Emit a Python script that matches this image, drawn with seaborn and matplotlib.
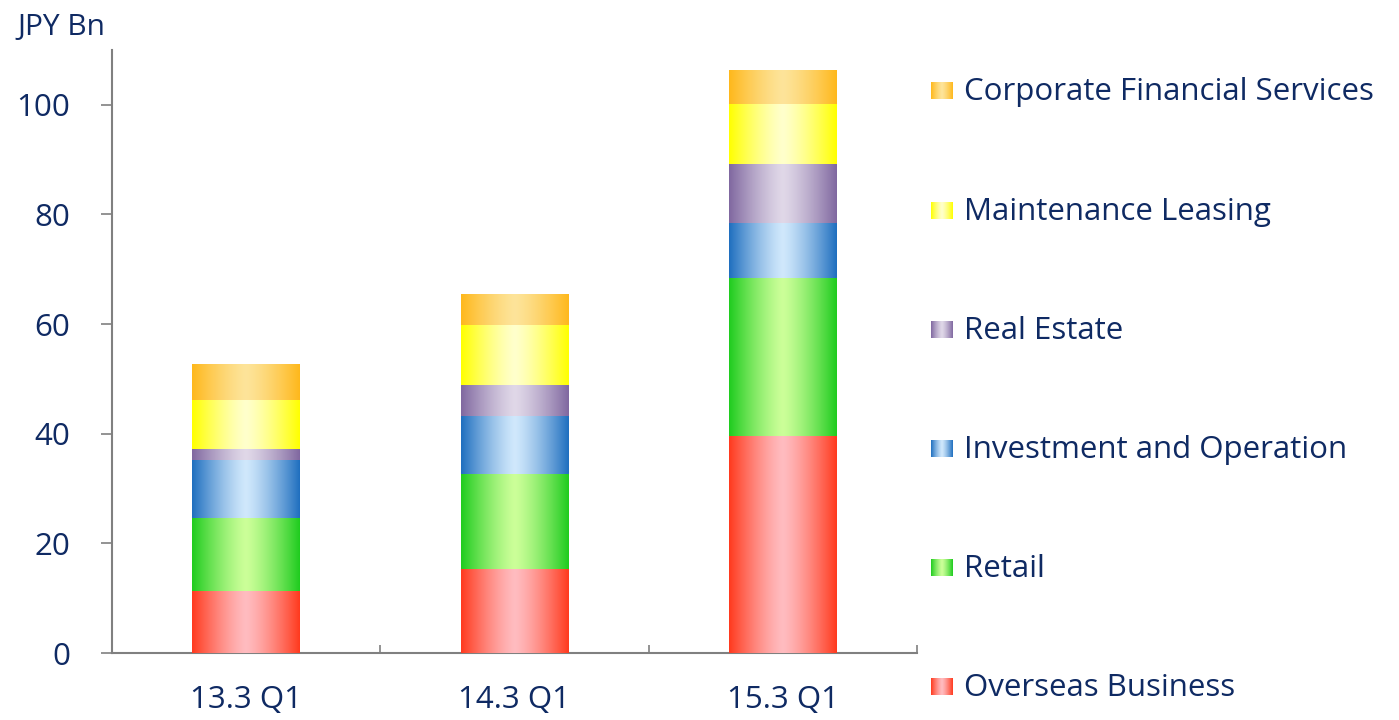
import numpy as np
import pandas as pd
import matplotlib
matplotlib.use("Agg")
import matplotlib.pyplot as plt
from matplotlib.colors import to_rgb
import seaborn as sns

categories = ["13.3 Q1", "14.3 Q1", "15.3 Q1"]
segments = ["Overseas Business", "Retail", "Investment and Operation",
            "Real Estate", "Maintenance Leasing", "Corporate Financial Services"]
overseas = [11.3, 15.3, 39.6]
retail = [13.3, 17.4, 28.8]
investment = [10.7, 10.6, 10.1]
real_estate = [1.9, 5.6, 10.7]
maintenance = [8.9, 11.0, 11.0]
corporate = [6.6, 5.6, 6.2]
series = [overseas, retail, investment, real_estate, maintenance, corporate]

edge_cols = ["#ff3a1e", "#1fcc1f", "#1f6fbf", "#8068a0", "#ffff00", "#ffb81c"]
center_cols = ["#ffbcc0", "#ccff99", "#d0e8fc", "#e0d8e8", "#ffffcc", "#fde49a"]

navy = "#0f2a63"
sns.set_theme(style="white")
plt.rcParams["font.family"] = ["Open Sans", "DejaVu Sans"]

fig = plt.figure(figsize=(13.99, 7.2), dpi=100)
ax = fig.add_axes([0.080, 0.093, 0.5755, 0.8376])

cum = np.cumsum(np.array(series), axis=0)


def grad_img(i, n=200):
    t = np.abs(np.linspace(-1, 1, n)) ** 1.3
    e = np.array(to_rgb(edge_cols[i]))
    c = np.array(to_rgb(center_cols[i]))
    row = c[None, :] + (e - c)[None, :] * t[:, None]
    return row[None, :, :]


# draw cumulative totals from top layer down so lower layers overlay
for i in range(len(segments) - 1, -1, -1):
    df = pd.DataFrame({"cat": categories, "val": cum[i]})
    n_before = len(ax.patches)
    sns.barplot(data=df, x="cat", y="val", color=edge_cols[i], width=0.40,
                ax=ax, order=categories, errorbar=None, linewidth=0)
    new = ax.patches[n_before:]
    for p in new:
        p.set_facecolor("none")
        p.set_edgecolor("none")
        x0, y0 = p.get_x(), p.get_y()
        w, h = p.get_width(), p.get_height()
        im = ax.imshow(grad_img(i), extent=(x0, x0 + w, y0, y0 + h),
                       aspect="auto", interpolation="bilinear",
                       zorder=2 + (len(segments) - i))
        im.set_clip_path(p)

ax.set_xlim(-0.5, 2.5)
ax.set_ylim(0, 110)
ax.set_yticks([0, 20, 40, 60, 80, 100])
ax.set_xlabel("")
ax.set_ylabel("")

for s in ["top", "right"]:
    ax.spines[s].set_visible(False)
for s in ["left", "bottom"]:
    ax.spines[s].set_color("#808080")
    ax.spines[s].set_linewidth(1.5)

ax.tick_params(axis="y", direction="out", length=8, width=1.2, color="#808080",
               labelsize=22.5, labelcolor=navy, pad=22, left=True)
ax.tick_params(axis="x", which="major", length=0, labelsize=22.5,
               labelcolor=navy, pad=23)
ax.set_xticks([0.5, 1.5, 2.5], minor=True)
ax.tick_params(axis="x", which="minor", direction="in", length=6, width=1.2,
               color="#808080", bottom=True)

fig.text(17 / 1399, 1 - 27 / 720, "JPY Bn", fontsize=21.5, color=navy,
         ha="left", va="center")

# legend
ys = [686, 567, 448, 329, 210, 90]
for i, seg in enumerate(segments):
    yc = ys[i]
    lax = fig.add_axes([931 / 1399, 1 - (yc + 9) / 720, 22 / 1399, 17 / 720])
    lax.imshow(grad_img(i), aspect="auto", interpolation="bilinear")
    lax.axis("off")
    fig.text(964 / 1399, 1 - (yc + 2) / 720, seg, fontsize=22.5, color=navy,
             ha="left", va="center")

fig.savefig("out.png", dpi=100)
